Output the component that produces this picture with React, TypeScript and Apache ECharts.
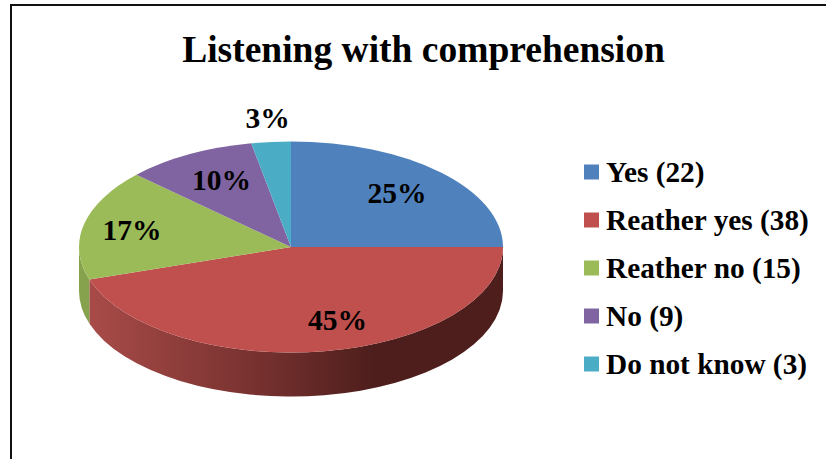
import React, { useEffect, useRef } from "react";
import * as echarts from "echarts";

const categories = ["Yes", "Reather yes", "Reather no", "No", "Do not know"];
const counts = [22, 38, 15, 9, 3];
const percents = [25, 45, 17, 10, 3];
const colors = ["#4F81BD", "#C0504D", "#9BBB59", "#8064A2", "#4BACC6"];

const FONT = '"Liberation Serif", "Times New Roman", serif';

// Tilted disc geometry
const CX = 291;
const CY = 247;
const RX = 212;
const RY = 105.5;
const DEPTH = 44;
const LABEL_RADIUS = 0.72;
// Per-slice nudges applied to the radially placed percentage labels
const labelNudges = [
  [-2, 0],
  [22.5, -2],
  [-10, 0],
  [4, 0],
  [-9, -53],
];

const wallFills: any[] = [
  "#3d6590",
  {
    type: "linear",
    global: true,
    x: 90,
    y: 0,
    x2: 375,
    y2: 0,
    colorStops: [
      { offset: 0, color: "#A84B48" },
      { offset: 0.55, color: "#7A3331" },
      { offset: 1, color: "#4D1E1C" },
    ],
  },
  "#86A24C",
  "#6d5589",
  "#3f93aa",
];

const pointAt = (pct: number, depth = 0): [number, number] => {
  const a = (pct / 100) * Math.PI * 2;
  return [CX + RX * Math.sin(a), CY - RY * Math.cos(a) + depth];
};

const topPath = (from: number, to: number) => {
  const [x1, y1] = pointAt(from);
  const [x2, y2] = pointAt(to);
  const large = to - from > 50 ? 1 : 0;
  return `M ${CX} ${CY} L ${x1} ${y1} A ${RX} ${RY} 0 ${large} 1 ${x2} ${y2} Z`;
};

// Outer wall of a slice, limited to the front half of the disc (25%..75%)
const wallPath = (from: number, to: number) => {
  const a = Math.max(from, 25);
  const b = Math.min(to, 75);
  if (b <= a) return null;
  const [x1, y1] = pointAt(a);
  const [x2, y2] = pointAt(b);
  return (
    `M ${x1} ${y1} A ${RX} ${RY} 0 0 1 ${x2} ${y2} ` +
    `L ${x2} ${y2 + DEPTH} A ${RX} ${RY} 0 0 0 ${x1} ${y1 + DEPTH} Z`
  );
};

export default function App() {
  const ref = useRef<HTMLDivElement>(null);

  useEffect(() => {
    document.body.style.margin = "0";
    const chart = echarts.init(ref.current!, null, { renderer: "svg" });

    let running = 0;
    const series = categories.map((name, i) => {
      const start = running;
      running += percents[i];
      return {
        type: "custom",
        name: `${name} (${counts[i]})`,
        coordinateSystem: "none",
        itemStyle: { color: colors[i] },
        data: [[start, percents[i]]],
        z: 2,
        silent: true,
        renderItem: (_params: any, api: any) => {
          const from = api.value(0);
          const pct = api.value(1);
          const to = from + pct;
          const children: any[] = [];
          const wall = wallPath(from, to);
          if (wall) {
            children.push({
              type: "path",
              shape: { pathData: wall },
              style: { fill: wallFills[i] },
            });
          }
          children.push({
            type: "path",
            shape: { pathData: topPath(from, to) },
            style: { fill: colors[i] },
          });
          const mid = ((from + to) / 2 / 100) * Math.PI * 2;
          children.push({
            type: "text",
            z2: 10,
            style: {
              text: `${pct}%`,
              x: CX + RX * LABEL_RADIUS * Math.sin(mid) + labelNudges[i][0],
              y: CY - RY * LABEL_RADIUS * Math.cos(mid) + labelNudges[i][1],
              align: "center",
              verticalAlign: "middle",
              font: `bold 29.5px ${FONT}`,
              fill: "#000",
            },
          });
          return { type: "group", children };
        },
      };
    });

    chart.setOption({
      animation: false,
      backgroundColor: "#fff",
      title: {
        text: "Listening with comprehension",
        left: 418.5,
        top: 25,
        textAlign: "center",
        textStyle: {
          fontFamily: FONT,
          fontWeight: "bold",
          fontSize: 37.5,
          color: "#000",
        },
      },
      legend: {
        orient: "vertical",
        left: 579,
        top: 151,
        icon: "rect",
        itemWidth: 15,
        itemHeight: 15,
        itemGap: 16,
        selectedMode: false,
        textStyle: {
          fontFamily: FONT,
          fontWeight: "bold",
          fontSize: 29.3,
          lineHeight: 30,
          color: "#000",
          padding: [2, 0, 0, 2],
        },
      },
      graphic: [
        {
          type: "polyline",
          shape: {
            points: [
              [11, 459],
              [11, 5],
              [826, 5],
            ],
          },
          style: { stroke: "#111", lineWidth: 2, fill: "none" },
        },
      ],
      series,
    });

    return () => chart.dispose();
  }, []);

  return <div ref={ref} style={{ width: 826, height: 459 }} />;
}
